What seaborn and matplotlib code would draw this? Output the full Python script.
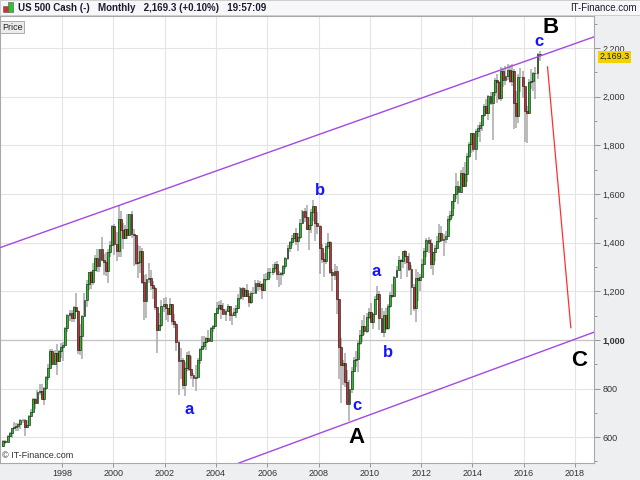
import matplotlib
matplotlib.use("Agg")
from matplotlib import pyplot as plt
from matplotlib.patches import Rectangle
from matplotlib.ticker import FuncFormatter, MultipleLocator
import seaborn as sns
import pandas as pd

# monthly US 500 candles, Sep 1995 .. Aug 2016
first_month = "1995-09-01"
first_open = 561.9

close = [
    584.4, 581.5, 605.4, 615.9,
    636.0, 640.4, 645.5, 654.2, 669.1, 670.6, 640.0, 652.0, 687.3, 705.3, 757.0, 740.7,
    786.2, 790.8, 757.1, 801.3, 848.3, 885.1, 954.3, 899.5, 947.3, 914.6, 955.4, 970.4,
    980.3, 1049.3, 1101.8, 1111.8, 1090.8, 1133.8, 1120.7, 957.3, 1017.0, 1098.7, 1163.6, 1229.2,
    1279.6, 1238.3, 1286.4, 1335.2, 1301.8, 1372.7, 1328.7, 1320.4, 1282.7, 1362.9, 1388.9, 1469.3,
    1394.5, 1366.4, 1498.6, 1452.4, 1420.6, 1454.6, 1430.8, 1517.7, 1436.5, 1429.4, 1315.0, 1320.3,
    1366.0, 1239.9, 1160.3, 1249.5, 1255.8, 1224.4, 1211.2, 1133.6, 1040.9, 1059.8, 1139.5, 1148.1,
    1130.2, 1106.7, 1147.4, 1076.9, 1067.1, 989.8, 911.6, 916.1, 815.3, 885.8, 936.3, 879.8,
    855.7, 841.2, 848.2, 916.9, 963.6, 974.5, 990.3, 1008.0, 996.0, 1050.7, 1058.2, 1111.9,
    1131.1, 1144.9, 1126.2, 1107.3, 1120.7, 1140.8, 1101.7, 1104.2, 1114.6, 1130.2, 1173.8, 1211.9,
    1181.3, 1203.6, 1180.6, 1156.9, 1191.5, 1191.3, 1234.2, 1220.3, 1228.8, 1207.0, 1249.5, 1248.3,
    1280.1, 1280.7, 1294.8, 1310.6, 1270.1, 1270.2, 1276.7, 1303.8, 1335.9, 1377.9, 1400.6, 1418.3,
    1438.2, 1406.8, 1420.9, 1482.4, 1530.6, 1503.4, 1455.3, 1474.0, 1526.8, 1549.4, 1481.1, 1468.4,
    1378.6, 1330.6, 1322.7, 1385.6, 1400.4, 1280.0, 1267.4, 1282.8, 1166.4, 968.8, 896.2, 903.3,
    825.9, 735.1, 797.9, 872.8, 919.1, 919.3, 987.5, 1020.6, 1057.1, 1036.2, 1095.6, 1115.1,
    1073.9, 1104.5, 1169.4, 1186.7, 1089.4, 1030.7, 1101.6, 1049.3, 1141.2, 1183.3, 1180.6, 1257.6,
    1286.1, 1327.2, 1325.8, 1363.6, 1345.2, 1320.6, 1292.3, 1218.9, 1131.4, 1253.3, 1247.0, 1257.6,
    1312.4, 1365.7, 1408.5, 1397.9, 1310.3, 1362.2, 1379.3, 1406.6, 1440.7, 1412.2, 1416.2, 1426.2,
    1498.1, 1514.7, 1569.2, 1597.6, 1630.7, 1606.3, 1685.7, 1633.0, 1681.6, 1756.5, 1805.8, 1848.4,
    1782.6, 1859.5, 1872.3, 1884.0, 1923.6, 1960.2, 1930.7, 2003.4, 1972.3, 2018.1, 2067.6, 2058.9,
    1995.0, 2104.5, 2067.9, 2085.5, 2107.4, 2063.1, 2103.8, 1972.2, 1920.0, 2079.4, 2080.4, 2043.9,
    1940.2, 1932.2, 2059.7, 2065.3, 2097.0, 2098.9, 2173.6, 2169.3,
]
high = [
    587, 588, 608, 622,
    637, 664, 660, 657, 674, 674, 673, 670, 690, 714, 762, 761,
    794, 818, 817, 805, 851, 899, 962, 961, 960, 983, 960, 986,
    993, 1051, 1106, 1124, 1122, 1141, 1191, 1122, 1066, 1104, 1193, 1245,
    1280, 1284, 1317, 1347, 1375, 1374, 1421, 1353, 1361, 1375, 1408, 1474,
    1478, 1445, 1553, 1528, 1482, 1474, 1518, 1519, 1531, 1454, 1432, 1390,
    1384, 1377, 1268, 1269, 1316, 1287, 1240, 1218, 1135, 1110, 1163, 1173,
    1176, 1131, 1173, 1147, 1107, 1070, 994, 965, 925, 908, 952, 955,
    935, 864, 895, 924, 966, 1015, 1016, 1011, 1040, 1054, 1063, 1112,
    1155, 1159, 1163, 1150, 1128, 1146, 1141, 1110, 1131, 1143, 1188, 1217,
    1218, 1213, 1229, 1192, 1199, 1219, 1246, 1245, 1243, 1233, 1270, 1276,
    1295, 1297, 1311, 1319, 1326, 1284, 1281, 1306, 1340, 1389, 1407, 1431,
    1441, 1461, 1438, 1498, 1535, 1541, 1556, 1504, 1539, 1576, 1545, 1524,
    1471, 1396, 1359, 1397, 1440, 1405, 1293, 1313, 1303, 1167, 1007, 919,
    944, 876, 833, 888, 930, 956, 996, 1040, 1080, 1101, 1111, 1130,
    1150, 1112, 1181, 1220, 1200, 1131, 1120, 1130, 1148, 1196, 1228, 1263,
    1302, 1344, 1333, 1366, 1371, 1346, 1356, 1307, 1230, 1293, 1277, 1270,
    1333, 1378, 1419, 1422, 1415, 1363, 1392, 1427, 1475, 1470, 1434, 1448,
    1510, 1530, 1570, 1598, 1687, 1654, 1698, 1710, 1730, 1768, 1814, 1849,
    1851, 1867, 1884, 1897, 1925, 1968, 1991, 2005, 2019, 2018, 2075, 2094,
    2065, 2120, 2118, 2126, 2135, 2130, 2133, 2113, 2021, 2094, 2117, 2105,
    2038, 1963, 2073, 2112, 2103, 2121, 2178, 2188,
]
low = [
    561, 571, 579, 600,
    597, 634, 627, 627, 632, 659, 605, 638, 649, 684, 703, 716,
    737, 772, 756, 733, 793, 837, 883, 898, 898, 855, 912, 925,
    912, 979, 1032, 1076, 1074, 1075, 1114, 940, 939, 923, 1093, 1137,
    1206, 1211, 1226, 1283, 1277, 1277, 1328, 1268, 1264, 1233, 1341, 1387,
    1350, 1325, 1339, 1339, 1374, 1420, 1416, 1431, 1419, 1305, 1307, 1254,
    1275, 1228, 1081, 1091, 1233, 1203, 1168, 1124, 945, 1040, 1054, 1114,
    1081, 1074, 1106, 1063, 1048, 953, 775, 838, 800, 768, 873, 872,
    840, 807, 789, 847, 902, 961, 962, 960, 991, 995, 1031, 1053,
    1106, 1123, 1087, 1107, 1076, 1113, 1078, 1060, 1100, 1090, 1128, 1163,
    1163, 1180, 1176, 1137, 1146, 1188, 1192, 1201, 1206, 1168, 1202, 1244,
    1245, 1253, 1268, 1280, 1245, 1219, 1224, 1262, 1290, 1327, 1360, 1385,
    1403, 1389, 1364, 1416, 1476, 1484, 1453, 1371, 1439, 1489, 1407, 1435,
    1270, 1317, 1257, 1313, 1374, 1272, 1200, 1247, 1107, 840, 741, 815,
    805, 735, 667, 783, 866, 888, 869, 979, 992, 1020, 1030, 1086,
    1071, 1045, 1106, 1170, 1040, 1028, 1011, 1040, 1041, 1132, 1173, 1187,
    1258, 1289, 1249, 1295, 1311, 1258, 1283, 1101, 1120, 1075, 1158, 1202,
    1259, 1312, 1341, 1358, 1292, 1267, 1325, 1375, 1397, 1403, 1343, 1398,
    1426, 1485, 1501, 1536, 1581, 1560, 1605, 1627, 1633, 1647, 1746, 1767,
    1771, 1738, 1834, 1815, 1860, 1915, 1930, 1904, 1964, 1821, 2001, 1973,
    1988, 1981, 2039, 2048, 2068, 2057, 2045, 1867, 1872, 1893, 2019, 1993,
    1812, 1810, 1937, 2033, 2025, 1992, 2074, 2147,
]

# wave labels: text, year, price, size, colour
wave_labels = [
    ("B", 2017.06, 2283, 16, "black"),
    ("c", 2016.59, 2226, 12, "#1414ff"),
    ("b", 2008.04, 1616, 12, "#1414ff"),
    ("a", 2002.96, 715, 12, "#1414ff"),
    ("a", 2010.23, 1279, 12, "#1414ff"),
    ("b", 2010.70, 950, 12, "#1414ff"),
    ("c", 2009.52, 732, 12, "#1414ff"),
    ("A", 2009.48, 600, 16, "black"),
    ("C", 2018.16, 917, 16, "black"),
]
upper_channel = ([1995.58, 2018.78], [1379, 2247])
lower_channel = ([2004.875, 2018.78], [493, 1033])
projection = ([2016.93, 2017.84], [2123, 1049])

dates = pd.date_range(first_month, periods=len(close), freq="MS")
df = pd.DataFrame({"date": dates, "close": close, "high": high, "low": low})
df["open"] = [first_open] + close[:-1]
df["x"] = df["date"].dt.year + (df["date"].dt.month - 0.5) / 12
up = df[df["close"] >= df["open"]]
down = df[df["close"] < df["open"]]

sns.set_style("white")
plt.rcParams["font.family"] = ["Liberation Sans", "DejaVu Sans"]

fig = plt.figure(figsize=(6.4, 4.8), dpi=100, facecolor="#eeeff1")
ax = fig.add_axes([0.0, 0.035, 0.928, 0.932])
ax.set_facecolor("white")

# wicks then bodies
ax.vlines(df["x"], df["low"], df["high"], color="#a8a8a8", linewidth=1.1, zorder=2)
w = 0.074
ax.bar(up["x"], up["close"] - up["open"], bottom=up["open"], width=w,
       color="#22c022", edgecolor="#111111", linewidth=0.4, zorder=3)
ax.bar(down["x"], down["close"] - down["open"], bottom=down["open"], width=w,
       color="#c23434", edgecolor="#111111", linewidth=0.4, zorder=3)

sns.lineplot(x=upper_channel[0], y=upper_channel[1], ax=ax, color="#a448e4", linewidth=1.0, zorder=4)
sns.lineplot(x=lower_channel[0], y=lower_channel[1], ax=ax, color="#a448e4", linewidth=1.0, zorder=4)
sns.lineplot(x=projection[0], y=projection[1], ax=ax, color="#ff3030", linewidth=0.9, zorder=4)

for txt, xx, yy, size, col in wave_labels:
    ax.text(xx, yy, txt, fontsize=size, fontweight="bold", color=col,
            ha="center", va="center", zorder=5)

ax.set_xlim(1995.58, 2018.74)
ax.set_ylim(493, 2332)
ax.set_xticks(range(1998, 2019, 2))
ax.yaxis.set_major_locator(MultipleLocator(200))
ax.yaxis.set_minor_locator(MultipleLocator(100))
ax.yaxis.set_major_formatter(FuncFormatter(lambda v, p: f"{v:,.0f}"))
ax.yaxis.tick_right()
ax.grid(True, which="major", color="#e4e4e4", linewidth=0.8, zorder=0)
ax.axhline(1000, color="#c4c4c4", linewidth=0.9, zorder=1)
ax.set_axisbelow(True)
ax.tick_params(axis="y", which="major", right=True, length=4, width=0.6, color="#888888",
               labelsize=6.5, labelcolor="#333333", pad=2)
ax.tick_params(axis="y", which="minor", right=True, length=2.5, width=0.6, color="#888888")
ax.tick_params(axis="x", bottom=True, length=3, width=0.6, color="#888888",
               labelsize=6.5, labelcolor="#333333", pad=1)
for lab in ax.get_yticklabels():
    if lab.get_text() == "1,000":
        lab.set_fontweight("bold")
for s in ax.spines.values():
    s.set_color("#a8a8a8")
    s.set_linewidth(0.8)
ax.set_xlabel("")
ax.set_ylabel("")

# header bar
fig.patches.append(Rectangle((0, 0.968), 1, 0.032, transform=fig.transFigure,
                             facecolor="#f7f7f9", edgecolor="#c8c8c8", linewidth=0.6, zorder=0))
fig.patches.append(Rectangle((0.005, 0.975), 0.007, 0.012, transform=fig.transFigure,
                             facecolor="#d43030", edgecolor="#555555", linewidth=0.4))
fig.patches.append(Rectangle((0.013, 0.975), 0.007, 0.02, transform=fig.transFigure,
                             facecolor="#30c030", edgecolor="#555555", linewidth=0.4))
fig.text(0.028, 0.983, "US 500 Cash (-)   Monthly   2,169.3 (+0.10%)   19:57:09",
         fontsize=7, fontweight="bold", color="#1c1c30", va="center", ha="left")
fig.text(0.995, 0.983, "IT-Finance.com", fontsize=7, color="#1c1c30", va="center", ha="right")
ax.text(0.003, 0.985, "Price", transform=ax.transAxes, fontsize=6.5, color="#222222",
        va="top", ha="left",
        bbox=dict(boxstyle="square,pad=0.15", facecolor="#ececec", edgecolor="#a0a0a0", linewidth=0.6))
ax.text(0.004, 0.008, "© IT-Finance.com", transform=ax.transAxes, fontsize=6.5,
        color="#333333", va="bottom", ha="left")

# last price tag, drawn over the axis labels as in the source
ax.annotate(f"{close[-1]:,.1f}", xy=(1.0, close[-1]), xycoords=("axes fraction", "data"),
            xytext=(4, -1), textcoords="offset points", fontsize=6.5, color="#222222",
            va="center", ha="left", annotation_clip=False, zorder=10,
            bbox=dict(boxstyle="square,pad=0.2", facecolor="#f2d200", edgecolor="none"))

fig.savefig("out.png", dpi=100, facecolor=fig.get_facecolor())
